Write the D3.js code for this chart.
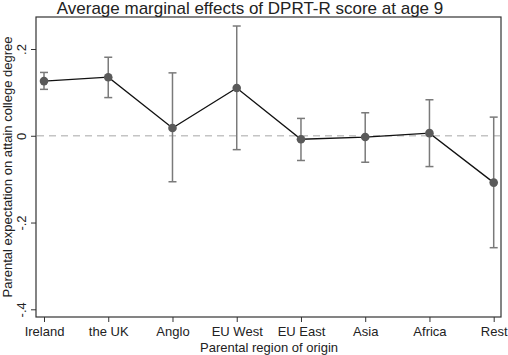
<!DOCTYPE html>
<html><head><meta charset="utf-8">
<script src="https://cdn.jsdelivr.net/npm/d3@7"></script>
<style>body{margin:0;background:#fff}svg{display:block}text{font-family:Arial,"Liberation Sans",sans-serif;fill:#222}</style>
</head><body><div id="chart"></div>
<script>
const categories = ["Ireland","the UK","Anglo","EU West","EU East","Asia","Africa","Rest"];
const estimates  = [0.126, 0.135, 0.018, 0.110, -0.008, -0.003, 0.006, -0.108];
const ciLower    = [0.107, 0.088, -0.106, -0.032, -0.057, -0.061, -0.071, -0.258];
const ciUpper    = [0.146, 0.181, 0.145, 0.253, 0.040, 0.053, 0.083, 0.043];
const yTicks     = [-0.4, -0.2, 0, 0.2];
const yTickLabels= ["-.4","-.2","0",".2"];
const title = "Average marginal effects of DPRT-R score at age 9";
const xTitle = "Parental region of origin";
const yTitle = "Parental expectation on attain college degree";

const W=508,H=355;
const L=36,R=501,T=17,B=317;
const svg=d3.select("#chart").append("svg").attr("width",W).attr("height",H);
const x=d3.scalePoint().domain(categories).range([44,493.7]);
const y=d3.scaleLinear().domain([-0.4,0.2]).range([309.3,49]);

// frame
svg.append("rect").attr("x",L).attr("y",T).attr("width",R-L).attr("height",B-T)
  .attr("fill","none").attr("stroke","#333").attr("stroke-width",1.2);

// zero line
svg.append("line").attr("x1",L+1).attr("x2",R-1).attr("y1",y(0)).attr("y2",y(0))
  .attr("stroke","#c4c4c4").attr("stroke-width",1.4).attr("stroke-dasharray","7,5");

// axes
const yAxis=d3.axisLeft(y).tickValues(yTicks).tickFormat((d,i)=>yTickLabels[i]).tickSize(5).tickSizeOuter(0);
const gy=svg.append("g").attr("transform",`translate(${L},0)`).call(yAxis);
gy.select(".domain").remove();
gy.selectAll(".tick line").attr("stroke","#333");
gy.selectAll(".tick text").attr("font-size",13).attr("fill","#222")
  .each(function(d){
    d3.select(this).attr("x",null).attr("dy",null).attr("text-anchor","middle")
     .attr("transform",`translate(-10,0) rotate(-90)`).attr("y",0);
  });

const xAxis=d3.axisBottom(x).tickSize(5).tickSizeOuter(0);
const gx=svg.append("g").attr("transform",`translate(0,${B})`).call(xAxis);
gx.select(".domain").remove();
gx.selectAll(".tick line").attr("stroke","#333");
gx.selectAll(".tick text").attr("font-size",13).attr("fill","#222").attr("y",10).attr("dy","0.71em");

// titles
svg.append("text").attr("x",250).attr("y",14).attr("text-anchor","middle").attr("font-size",17).text(title);
svg.append("text").attr("x",269).attr("y",352).attr("text-anchor","middle").attr("font-size",13).text(xTitle);
svg.append("text").attr("transform",`translate(12,${(T+B)/2}) rotate(-90)`).attr("text-anchor","middle").attr("font-size",13).text(yTitle);

// error bars
const g=svg.append("g");
categories.forEach((c,i)=>{
  const cx=x(c);
  g.append("line").attr("x1",cx).attr("x2",cx).attr("y1",y(ciLower[i])).attr("y2",y(ciUpper[i])).attr("stroke","#7a7a7a").attr("stroke-width",1.5);
  [ciLower[i],ciUpper[i]].forEach(v=>{
    g.append("line").attr("x1",cx-4).attr("x2",cx+4).attr("y1",y(v)).attr("y2",y(v)).attr("stroke","#7a7a7a").attr("stroke-width",1.5);
  });
});
// line
const line=d3.line().x((d,i)=>x(categories[i])).y(d=>y(d));
svg.append("path").datum(estimates).attr("d",line).attr("fill","none").attr("stroke","#111").attr("stroke-width",1.3);
// markers
svg.selectAll("circle.pt").data(estimates).enter().append("circle")
  .attr("cx",(d,i)=>x(categories[i])).attr("cy",d=>y(d)).attr("r",4.3).attr("fill","#5a5a5a");
</script></body></html>
